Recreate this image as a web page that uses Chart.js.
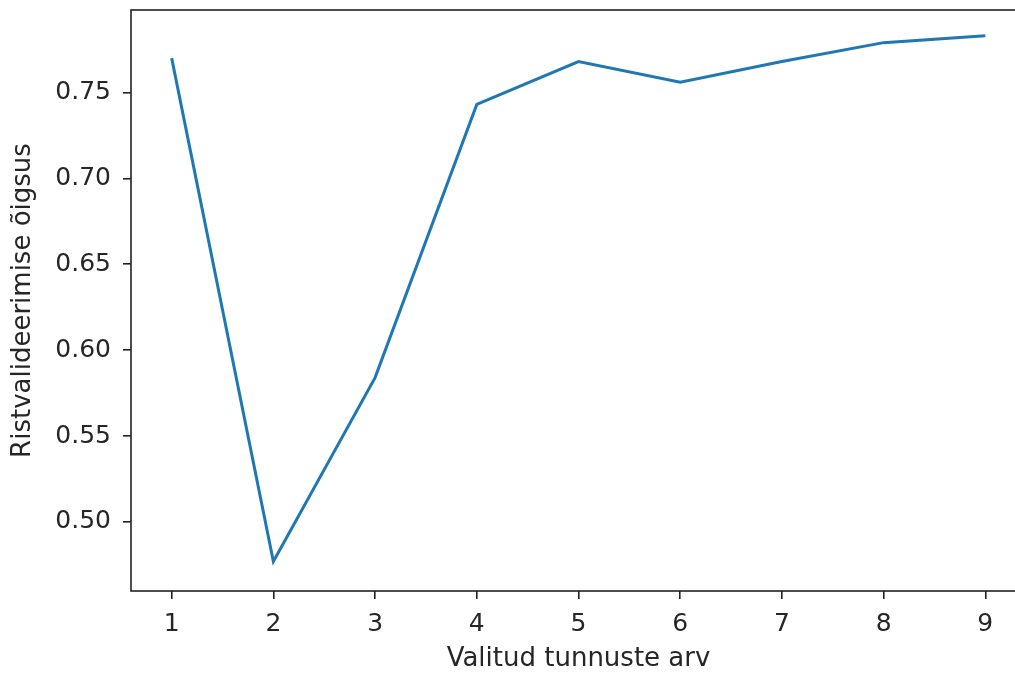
<!DOCTYPE html>
<html>
<head>
<meta charset="utf-8">
<script src="https://cdn.jsdelivr.net/npm/chart.js@4"></script>
<style>
  html, body { margin: 0; padding: 0; background: #fff; overflow: hidden; }
  #wrap { width: 1030px; height: 675px; }
</style>
</head>
<body>
<div id="wrap"><canvas id="chart"></canvas></div>
<script>
// number of selected features vs cross-validation accuracy
var featureCounts = [1, 2, 3, 4, 5, 6, 7, 8, 9];
var accuracy = [0.770, 0.477, 0.584, 0.743, 0.768, 0.756, 0.768, 0.779, 0.783];
var yTicks = [0.50, 0.55, 0.60, 0.65, 0.70, 0.75];
var xTicks = [1, 2, 3, 4, 5, 6, 7, 8, 9];

var textColor = "#262626";
var fontFamily = "'DejaVu Sans', sans-serif";

// matplotlib style box around the plot
var frame = {
  id: "frame",
  afterDraw: function (c) {
    var a = c.chartArea;
    var ctx = c.ctx;
    ctx.save();
    ctx.strokeStyle = "#222";
    ctx.lineWidth = 1.6;
    ctx.strokeRect(a.left, a.top, a.right - a.left, a.bottom - a.top);
    ctx.restore();
  }
};

var points = featureCounts.map(function (n, i) {
  return { x: n, y: accuracy[i] };
});

var chart = new Chart(document.getElementById("chart").getContext("2d"), {
  type: "line",
  data: {
    datasets: [
      {
        data: points,
        borderColor: "#1f77b4",
        backgroundColor: "#1f77b4",
        borderWidth: 3,
        pointRadius: 0,
        tension: 0,
      },
    ],
  },
  options: {
    responsive: true,
    maintainAspectRatio: false,
    animation: false,
    layout: { padding: { top: 10, right: 4, left: 0, bottom: 0 } },
    plugins: { legend: { display: false }, tooltip: { enabled: false } },
    scales: {
      x: {
        type: "linear",
        min: 0.6,
        max: 9.4,
        afterBuildTicks: function (s) {
          s.ticks = xTicks.map(function (v) { return { value: v }; });
        },
        afterFit: function (s) {
          s.height = 84;
          s.paddingLeft = 0;
          s.paddingRight = 0;
        },
        grid: {
          drawOnChartArea: false,
          drawTicks: true,
          tickLength: 8,
          color: "#222",
          lineWidth: 1.6,
        },
        border: { display: false },
        ticks: {
          color: textColor,
          font: { family: fontFamily, size: 25 },
          padding: 10,
          maxRotation: 0,
          autoSkip: false,
        },
        title: {
          display: true,
          text: "Valitud tunnuste arv",
          color: textColor,
          font: { family: fontFamily, size: 26 },
          padding: { top: 0, bottom: 0 },
        },
      },
      y: {
        min: 0.4598,
        max: 0.798,
        afterBuildTicks: function (s) {
          s.ticks = yTicks.map(function (v) { return { value: v }; });
        },
        afterFit: function (s) {
          s.width = 131;
          s.paddingTop = 0;
          s.paddingBottom = 0;
        },
        grid: {
          drawOnChartArea: false,
          drawTicks: true,
          tickLength: 8,
          color: "#222",
          lineWidth: 1.6,
        },
        border: { display: false },
        ticks: {
          color: textColor,
          font: { family: fontFamily, size: 25 },
          padding: 12,
          autoSkip: false,
          callback: function (v) { return v.toFixed(2); },
        },
        title: {
          display: true,
          text: "Ristvalideerimise õigsus",
          color: textColor,
          font: { family: fontFamily, size: 26 },
          padding: { top: 8, bottom: 0 },
        },
      },
    },
  },
  plugins: [frame],
});
</script>
</body>
</html>
